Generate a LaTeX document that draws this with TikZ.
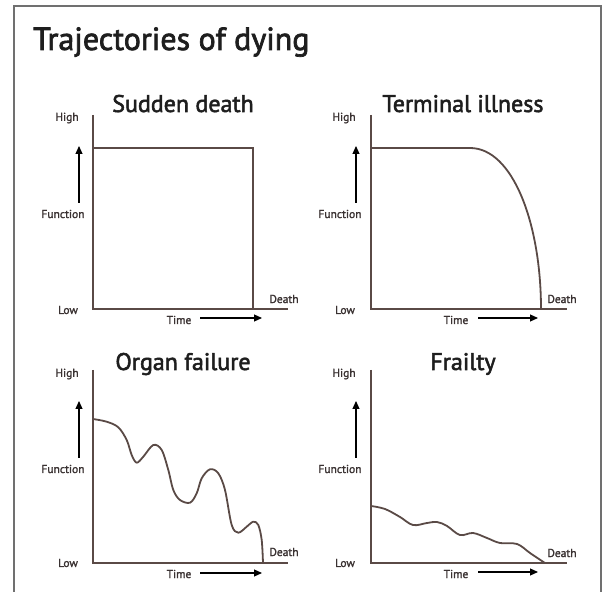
\documentclass[tikz,border=0pt]{standalone}
\usepackage{fontspec}
\setmainfont{PT Sans}
\newfontfamily\semifont[FakeBold=2.2]{PT Sans}
\newfontfamily\labfont[FakeBold=1.6]{PT Sans}
\usetikzlibrary{arrows.meta}
\definecolor{linec}{HTML}{5A4A46}
\definecolor{labc}{HTML}{3A3232}
\definecolor{titc}{HTML}{1E1E1E}
\definecolor{framec}{HTML}{707070}
\begin{document}
\begin{tikzpicture}[x=1pt,y=1pt,
  axis/.style={draw=linec, line width=1.8pt, line join=miter},
  curve/.style={draw=linec, line width=1.8pt, line join=round},
  lbl/.style={text=labc, font=\labfont\fontsize{11.5}{11.5}\selectfont, inner sep=0pt},
  ptitle/.style={text=titc, font=\semifont\fontsize{24}{24}\selectfont, inner sep=0pt, anchor=base},
  dirarrow/.style={draw=black, line width=1.1pt, -{Triangle[length=8pt,width=7pt]}}
]
\useasboundingbox (0,0) rectangle (603,592);
\fill[white] (0,0) rectangle (603,592);
% frame
\coordinate (fr1) at (14,0);
\coordinate (fr2) at (14,586);
\coordinate (fr3) at (601,586);
\coordinate (fr4) at (601,0);
\draw[framec, line width=1.4pt] (fr1) -- (fr2) -- (fr3) -- (fr4);
% main title
\node[text=titc, font=\semifont\fontsize{32}{32}\selectfont, inner sep=0pt, anchor=base west] (maintitle) at (33,542) {Trajectories of dying};

% ---------- Panel 1: Sudden death ----------
\begin{scope}[shift={(93,283)}]
  \coordinate (o1) at (0,0); \coordinate (t1) at (0,194); \coordinate (e1) at (195,0);
  \draw[axis] (t1) -- (o1) -- (e1);
  \node[lbl] (high1) at (-26,191) {High};
  \node[lbl] (func1) at (-30,95) {Function};
  \node[lbl] (low1) at (-25,-1) {Low};
  \node[lbl] (death1) at (191,10) {Death};
  \node[lbl] (time1) at (86,-11) {Time};
  \coordinate (fa1) at (-14,106); \coordinate (fb1) at (-14,163);
  \draw[dirarrow] (fa1) -- (fb1);
  \coordinate (ta1) at (107,-9); \coordinate (tb1) at (169,-9);
  \draw[dirarrow] (ta1) -- (tb1);
  \node[ptitle] (title1) at (90,197) {Sudden death};
  \coordinate (c1a) at (0,161); \coordinate (c1b) at (160,161); \coordinate (c1c) at (160,0);
  \draw[curve, line join=miter] (c1a) -- (c1b) -- (c1c);
\end{scope}

% ---------- Panel 2: Terminal illness ----------
\begin{scope}[shift={(371,283)}]
  \coordinate (o2) at (0,0); \coordinate (t2) at (0,194); \coordinate (e2) at (196,0);
  \draw[axis] (t2) -- (o2) -- (e2);
  \node[lbl] (high2) at (-27,191) {High};
  \node[lbl] (func2) at (-31,95) {Function};
  \node[lbl] (low2) at (-26,-1) {Low};
  \node[lbl] (death2) at (191,10) {Death};
  \node[lbl] (time2) at (85,-11) {Time};
  \coordinate (fa2) at (-15,106); \coordinate (fb2) at (-15,163);
  \draw[dirarrow] (fa2) -- (fb2);
  \coordinate (ta2) at (107,-9); \coordinate (tb2) at (167,-9);
  \draw[dirarrow] (ta2) -- (tb2);
  \node[ptitle] (title2) at (92,197) {Terminal illness};
  \coordinate (c2a) at (0,161); \coordinate (c2b) at (99,161); \coordinate (c2c) at (170,0);
  \draw[curve] (c2a) -- (c2b) .. controls (142,161) and (170,85) .. (c2c);
\end{scope}

% ---------- Panel 3: Organ failure ----------
\begin{scope}[shift={(93,29)}]
  \coordinate (o3) at (0,0); \coordinate (t3) at (0,193); \coordinate (e3) at (195,0);
  \draw[axis] (t3) -- (o3) -- (e3);
  \node[lbl] (high3) at (-26,189) {High};
  \node[lbl] (func3) at (-30,94) {Function};
  \node[lbl] (low3) at (-25,0) {Low};
  \node[lbl] (death3) at (191,11) {Death};
  \node[lbl] (time3) at (86,-11) {Time};
  \coordinate (fa3) at (-14,105); \coordinate (fb3) at (-14,162);
  \draw[dirarrow] (fa3) -- (fb3);
  \coordinate (ta3) at (107,-10); \coordinate (tb3) at (169,-10);
  \draw[dirarrow] (ta3) -- (tb3);
  \node[ptitle] (title3) at (90,193) {Organ failure};
  \draw[curve] plot[smooth, tension=0.55] coordinates {
    (0,144) (13.7,141.3) (25.3,135.7) (33.7,123) (38.7,108) (43.7,100.3)
    (50.3,106.3) (60.3,118) (68.7,113) (75.3,93) (80.3,73) (87,63) (97,60.3)
    (103.7,69.7) (108.7,84.7) (117,93.7) (125.3,89.7) (132,73) (138.7,38)
    (145.3,30.3) (153.7,36.3) (160.3,41.3) (165.3,38) (168.7,23) (170,0)};
\end{scope}

% ---------- Panel 4: Frailty ----------
\begin{scope}[shift={(371,29)}]
  \coordinate (o4) at (0,0); \coordinate (t4) at (0,193); \coordinate (e4) at (196,0);
  \draw[axis] (t4) -- (o4) -- (e4);
  \node[lbl] (high4) at (-27,189) {High};
  \node[lbl] (func4) at (-31,94) {Function};
  \node[lbl] (low4) at (-26,0) {Low};
  \node[lbl] (death4) at (191,10) {Death};
  \node[lbl] (time4) at (85,-11) {Time};
  \coordinate (fa4) at (-15,105); \coordinate (fb4) at (-15,162);
  \draw[dirarrow] (fa4) -- (fb4);
  \coordinate (ta4) at (107,-9); \coordinate (tb4) at (167,-9);
  \draw[dirarrow] (ta4) -- (tb4);
  \node[ptitle] (title4) at (92,193) {Frailty};
  \draw[curve] plot[smooth, tension=0.6] coordinates {
    (0,57) (14,54) (29,46) (42,38) (56,40) (66,41) (76,37) (89,28) (102,30)
    (116,25) (129,20) (146,19) (159,10) (174,0)};
\end{scope}
\end{tikzpicture}
\end{document}
